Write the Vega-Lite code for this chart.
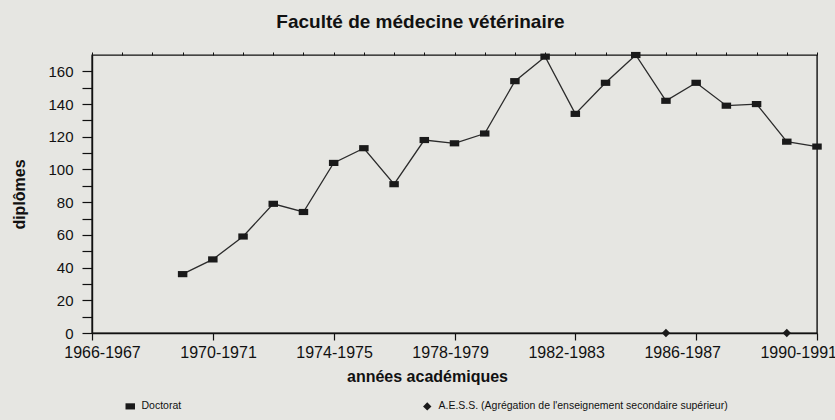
{
  "$schema": "https://vega.github.io/schema/vega-lite/v6.json",
  "width": 725,
  "height": 278,
  "autosize": {"type": "none"},
  "padding": {"left": 92, "top": 55, "right": 18, "bottom": 87},
  "background": "#e6e6e2",
  "config": {
    "font": "Liberation Sans",
    "view": {"stroke": "#111111", "strokeWidth": 1.4},
    "axis": {"domainColor": "#111111", "tickColor": "#111111", "labelColor": "#111111", "titleColor": "#111111", "grid": false, "labelFont": "Liberation Sans", "titleFont": "Liberation Sans"}
  },
  "title": {"text": "Faculté de médecine vétérinaire", "font": "Liberation Sans", "fontSize": 19, "fontWeight": "bold", "color": "#111111", "dx": -34, "offset": 20, "anchor": "middle"},
  "data": {
    "values": [
      {"annee": 1969, "serie": "Doctorat", "diplomes": 36},
      {"annee": 1970, "serie": "Doctorat", "diplomes": 45},
      {"annee": 1971, "serie": "Doctorat", "diplomes": 59},
      {"annee": 1972, "serie": "Doctorat", "diplomes": 79},
      {"annee": 1973, "serie": "Doctorat", "diplomes": 74},
      {"annee": 1974, "serie": "Doctorat", "diplomes": 104},
      {"annee": 1975, "serie": "Doctorat", "diplomes": 113},
      {"annee": 1976, "serie": "Doctorat", "diplomes": 91},
      {"annee": 1977, "serie": "Doctorat", "diplomes": 118},
      {"annee": 1978, "serie": "Doctorat", "diplomes": 116},
      {"annee": 1979, "serie": "Doctorat", "diplomes": 122},
      {"annee": 1980, "serie": "Doctorat", "diplomes": 154},
      {"annee": 1981, "serie": "Doctorat", "diplomes": 169},
      {"annee": 1982, "serie": "Doctorat", "diplomes": 134},
      {"annee": 1983, "serie": "Doctorat", "diplomes": 153},
      {"annee": 1984, "serie": "Doctorat", "diplomes": 170},
      {"annee": 1985, "serie": "Doctorat", "diplomes": 142},
      {"annee": 1986, "serie": "Doctorat", "diplomes": 153},
      {"annee": 1987, "serie": "Doctorat", "diplomes": 139},
      {"annee": 1988, "serie": "Doctorat", "diplomes": 140},
      {"annee": 1989, "serie": "Doctorat", "diplomes": 117},
      {"annee": 1990, "serie": "Doctorat", "diplomes": 114},
      {"annee": 1985, "serie": "A.E.S.S. (Agrégation de l'enseignement secondaire supérieur)", "diplomes": 0},
      {"annee": 1989, "serie": "A.E.S.S. (Agrégation de l'enseignement secondaire supérieur)", "diplomes": 0}
    ]
  },
  "layer": [
    {
      "transform": [{"filter": "datum.serie == 'Doctorat'"}],
      "mark": {"type": "line", "color": "#2b2b2b", "strokeWidth": 1.3},
      "encoding": {
        "x": {
          "field": "annee", "type": "quantitative",
          "scale": {"domain": [1966, 1990], "nice": false, "zero": false},
          "axis": {
            "values": [1966, 1970, 1974, 1978, 1982, 1986, 1990],
            "labelExpr": "datum.value + '-' + (datum.value + 1)",
            "tickSize": 7, "tickWidth": 1.2, "domainWidth": 1.4,
            "labelFontSize": 16, "labelPadding": 4,
            "labelOffset": {"expr": "10 - (datum.value - 1966) * 1.2"},
            "labelFlush": false, "labelOverlap": false, "labelBound": false,
            "title": "années académiques", "titleFontSize": 16, "titleFontWeight": "bold",
            "titlePadding": 8, "titleX": 335, "titleAlign": "center"
          }
        },
        "y": {
          "field": "diplomes", "type": "quantitative",
          "scale": {"domain": [0, 170], "nice": false},
          "axis": {
            "values": [0, 20, 40, 60, 80, 100, 120, 140, 160],
            "labelOverlap": false,
            "tickSize": 10, "tickWidth": 1.2, "domainWidth": 1.4,
            "labelFontSize": 15, "labelPadding": 9,
            "title": "diplômes", "titleFontSize": 16, "titleFontWeight": "bold", "titlePadding": 20
          }
        }
      }
    },
    {
      "mark": {"type": "point", "filled": true, "opacity": 1, "color": "#1a1a1a"},
      "encoding": {
        "x": {
          "field": "annee", "type": "quantitative",
          "axis": {"values": [1966, 1967, 1968, 1969, 1970, 1971, 1972, 1973, 1974, 1975, 1976, 1977, 1978, 1979, 1980, 1981, 1982, 1983, 1984, 1985, 1986, 1987, 1988, 1989, 1990], "labels": false, "domain": false, "tickSize": 3, "tickWidth": 1, "title": null}
        },
        "y": {
          "field": "diplomes", "type": "quantitative",
          "axis": {"orient": "left", "values": [10, 30, 50, 70, 90, 110, 130, 150], "labels": false, "domain": false, "tickSize": 10, "tickWidth": 1.2, "title": null}
        },
        "shape": {
          "field": "serie", "type": "nominal",
          "scale": {
            "domain": ["Doctorat", "A.E.S.S. (Agrégation de l'enseignement secondaire supérieur)"],
            "range": ["M-1,-0.65L1,-0.65L1,0.65L-1,0.65Z", "diamond"]
          },
          "legend": {
            "orient": "none", "legendX": 33, "legendY": 346,
            "direction": "horizontal", "columns": 2, "columnPadding": 240,
            "title": null, "labelFontSize": 10.5, "labelColor": "#111111", "labelOffset": 6, "labelLimit": 500,
            "symbolFillColor": "#1a1a1a", "symbolStrokeColor": "#1a1a1a", "symbolStrokeWidth": 0
          }
        },
        "size": {
          "field": "serie", "type": "nominal",
          "scale": {"domain": ["Doctorat", "A.E.S.S. (Agrégation de l'enseignement secondaire supérieur)"], "range": [90, 70]}
        }
      }
    }
  ],
  "resolve": {"axis": {"x": "independent", "y": "independent"}}
}
